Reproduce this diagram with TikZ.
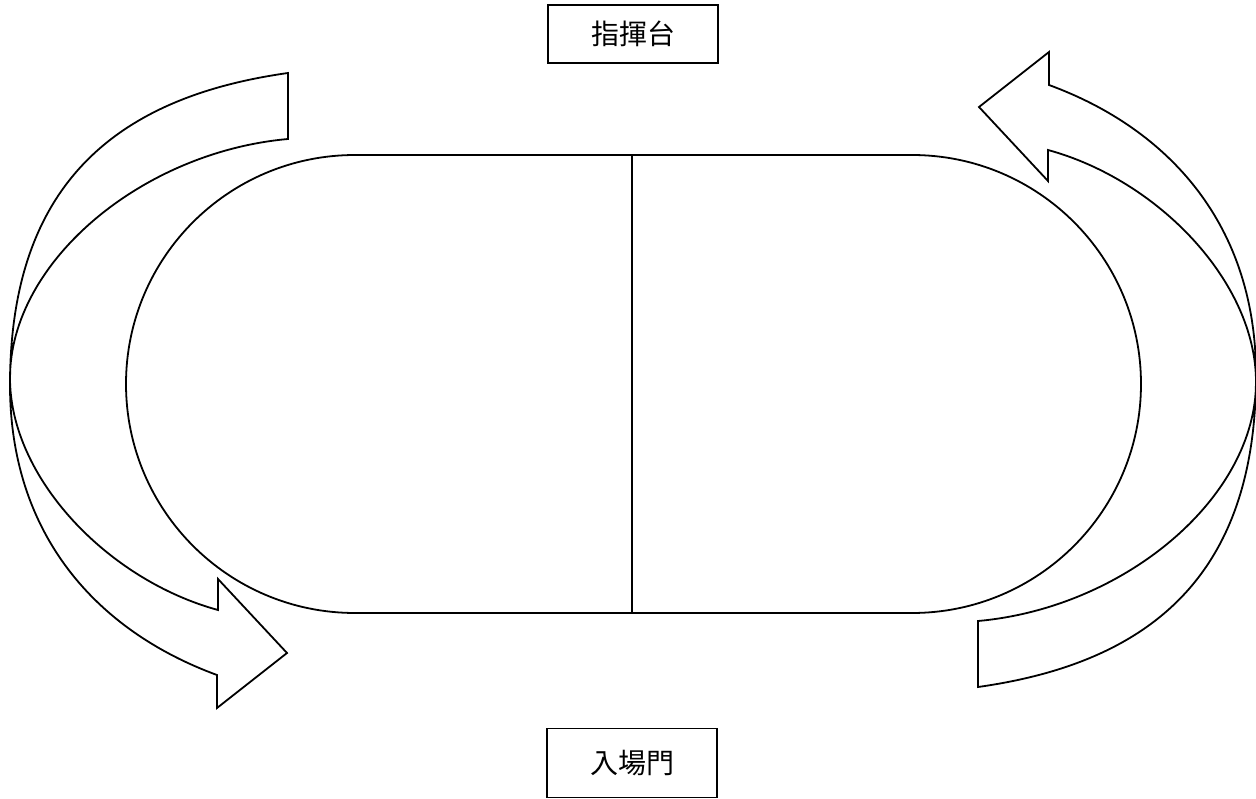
\documentclass[tikz,border=0pt]{standalone}
\usepackage{fontspec}
\newfontfamily\cjk{Noto Sans CJK TC}

% the curved band arrow on the left, the right one is the same turned round
\newcommand{\turnband}{%
  (288,73) .. controls (110,98) and (10,190) .. (10,385)
  .. controls (10,535) and (97,631) .. (217,675)
  -- (217,708) -- (287,653) -- (218,579) -- (218,610)
  .. controls (108,580) and (10,478) .. (10,378)
  .. controls (10,262) and (142,152) .. (288,139)
  -- cycle}

\tikzset{
  track/.style={draw=black, line width=1.8pt},
  band/.style={draw=black, line width=1.8pt, line join=miter},
  signbox/.style={draw=black, line width=1.8pt, minimum width=170pt, minimum height=58pt, inner sep=0pt, font=\cjk\fontsize{28}{30}\selectfont},
}

\begin{document}
\begin{tikzpicture}[x=1pt, y=-1pt]
    \useasboundingbox (0,0) rectangle (1256,799);

    \begin{scope}
        \draw [track, rounded corners=229pt] (126,155) rectangle (1141,613);
        \draw [track] (632,155) -- (632,613);
    \end{scope}

    \draw [band] \turnband;
    \begin{scope}[rotate around={180:(633,380)}]
        \draw [band] \turnband;
    \end{scope}

    \node [signbox] (podium) at (633,34) {指揮台};
    \node [signbox, minimum height=69pt] (gate) at (632,763) {入場門};
\end{tikzpicture}
\end{document}
